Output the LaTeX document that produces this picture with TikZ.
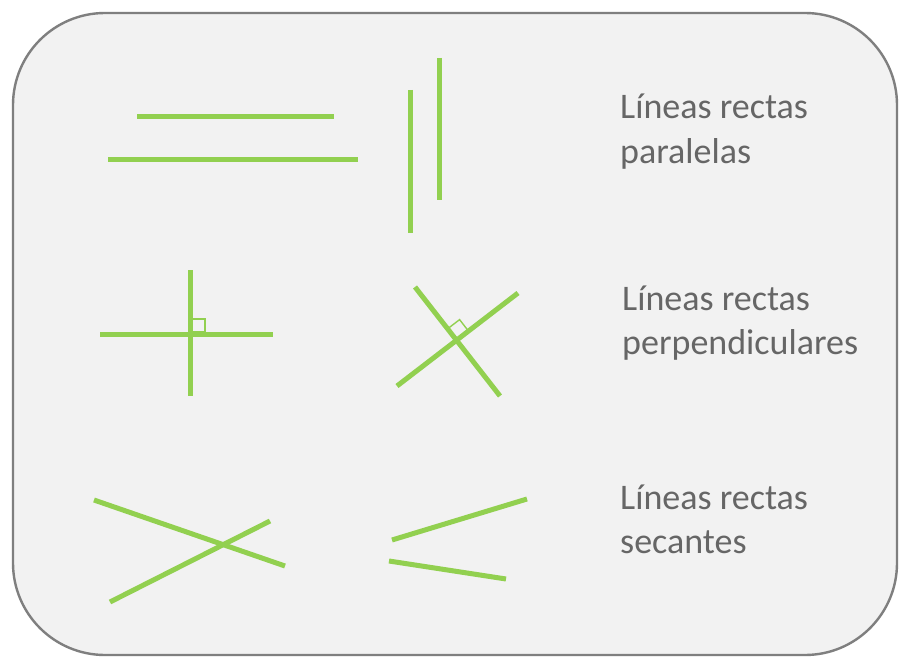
\documentclass[tikz,border=0pt]{standalone}
\usepackage{fontspec}
\setmainfont{Carlito}
\definecolor{lgreen}{HTML}{92D050}
\definecolor{bgray}{HTML}{F2F2F2}
\definecolor{fgray}{HTML}{7F7F7F}
\definecolor{tgray}{HTML}{666666}
\begin{document}
\begin{tikzpicture}[x=1pt,y=-1pt,
  gline/.style={draw=lgreen,line width=5pt},
  rmark/.style={draw=lgreen,line width=1.4pt},
  label/.style={anchor=base west,inner sep=0pt,text=tgray,font=\fontsize{36}{44}\selectfont,align=left}]
\useasboundingbox (0,0) rectangle (899,658);
\fill[white] (0,0) rectangle (899,658);
\draw[fill=bgray,draw=fgray,line width=2.4pt,rounded corners=92pt] (13,13) rectangle (897,655);
% parallel
\coordinate (p1a) at (137,117); \coordinate (p1b) at (334,117);
\coordinate (p2a) at (108,159); \coordinate (p2b) at (358,159);
\coordinate (p3a) at (410,90);  \coordinate (p3b) at (410,233);
\coordinate (p4a) at (439,58);  \coordinate (p4b) at (439,200);
\draw[gline] (p1a) -- (p1b);
\draw[gline] (p2a) -- (p2b);
\draw[gline] (p3a) -- (p3b);
\draw[gline] (p4a) -- (p4b);
% perpendicular
\coordinate (q1a) at (100,334); \coordinate (q1b) at (273,334);
\coordinate (q2a) at (190,270); \coordinate (q2b) at (190,396);
\draw[gline] (q1a) -- (q1b);
\draw[gline] (q2a) -- (q2b);
\draw[rmark] (192.5,331.5) rectangle (205,319);
\coordinate (r1a) at (415,287); \coordinate (r1b) at (500,396);
\coordinate (r2a) at (397,386); \coordinate (r2b) at (518,293);
\draw[gline] (r1a) -- (r1b);
\draw[gline] (r2a) -- (r2b);
\draw[rmark] (448.0,328.5) -- (459.6,319.6) -- (468.6,331.3);
% secant
\coordinate (s1a) at (94,500);  \coordinate (s1b) at (285,566);
\coordinate (s2a) at (110,602); \coordinate (s2b) at (270,521);
\coordinate (s3a) at (392,540); \coordinate (s3b) at (527,499);
\coordinate (s4a) at (389,561); \coordinate (s4b) at (506,579);
\draw[gline] (s1a) -- (s1b);
\draw[gline] (s2a) -- (s2b);
\draw[gline] (s3a) -- (s3b);
\draw[gline] (s4a) -- (s4b);
% labels
\node[label] (t1) at (620,163) {Líneas rectas\\paralelas};
\node[label] (t2) at (622,354) {Líneas rectas\\perpendiculares};
\node[label] (t3) at (620,553) {Líneas rectas\\secantes};
\end{tikzpicture}
\end{document}
